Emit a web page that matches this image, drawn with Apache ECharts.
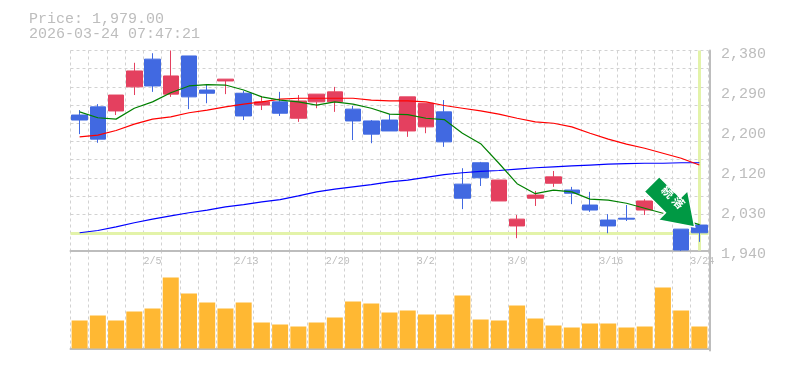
<!DOCTYPE html>
<html><head><meta charset="utf-8">
<style>html,body{margin:0;padding:0;background:#fff}#c{width:785px;height:370px}</style>
<script src="https://cdn.jsdelivr.net/npm/echarts@6/dist/echarts.min.js"></script>
</head><body><div id="c"></div>
<script>
const categories=['1/30','2/2','2/3','2/4','2/5','2/6','2/9','2/10','2/12','2/13','2/16','2/17','2/18','2/19','2/20','2/24','2/25','2/26','2/27','3/2','3/3','3/4','3/5','3/6','3/9','3/10','3/11','3/12','3/13','3/16','3/17','3/18','3/19','3/23','3/24'];
const axisDates=['','','','','2/5','','','','','2/13','','','','','2/20','','','','','3/2','','','','','3/9','','','','','3/16','','','','','3/24',''];
const opens=[2238,2256,2247,2300,2361,2284,2368,2293,2313,2286,2260,2267,2231,2267,2267,2251,2225,2227,2203,2212,2245,2086,2133,2049,1994,2055,2088,2073,2040,2007,2011,2029,2051,1987,1996];
const closes=[2227,2185,2282,2335,2302,2324,2278,2286,2317,2236,2267,2242,2269,2284,2289,2225,2196,2203,2278,2264,2179,2055,2100,2095,2009,2062,2102,2066,2029,1994,2009,2049,2073,1941,1979];
const highs=[2249,2262,2282,2353,2374,2380,2368,2306,2317,2291,2280,2289,2282,2284,2300,2258,2227,2240,2278,2264,2271,2121,2135,2095,2018,2071,2115,2080,2069,2020,2040,2053,2084,1987,1998];
const lows=[2196,2177,2238,2282,2289,2278,2251,2264,2284,2227,2249,2236,2223,2253,2245,2183,2176,2203,2190,2198,2168,2031,2082,2049,1967,2038,2080,2042,2025,1978,2005,2018,2042,1939,1959];
const maShort=[2245,2232,2229,2253,2267,2287,2302,2305,2304,2293,2278,2271,2267,2260,2267,2262,2253,2240,2239,2231,2228,2198,2175,2132,2087,2065,2073,2069,2053,2051,2044,2033,2022,2009,1997];
const maMid=[2190,2194,2204,2218,2229,2234,2243,2249,2256,2262,2267,2273,2275,2275,2275,2275,2271,2269,2269,2267,2259,2253,2247,2240,2231,2223,2220,2212,2198,2185,2174,2165,2154,2143,2128];
const maLong=[1979,1984,1992,2001,2009,2016,2023,2029,2036,2041,2047,2052,2060,2069,2075,2080,2085,2091,2095,2101,2107,2111,2114,2116,2119,2122,2124,2126,2128,2130,2131,2132,2132,2133,2133];
const volumes=[280,330,280,370,400,710,550,460,400,460,260,240,220,260,310,470,450,360,380,340,340,530,290,280,430,300,230,210,250,250,210,220,610,380,220];
const gridValues=[1940,1980,2020,2060,2100,2140,2180,2220,2260,2300,2340,2380];
const priceTicks=[1940,2028,2116,2204,2292,2380];
const lastPrice=1979;
const titleLines=['Price: 1,979.00','2026-03-24 07:47:21'];
const arrowText='続 落';
const grey='#bdbdbd', dash='#d2d2d2', mono='"Liberation Mono",monospace';
const fmt=v=>{const r=Math.round(v/10)*10;return String(r).replace(/\B(?=(\d{3})+$)/g,',');};
const candle=categories.map((c,i)=>[opens[i],closes[i],lows[i],highs[i]]);
const dashed={show:true,lineStyle:{color:dash,type:[3,3],width:1}};
const chart=echarts.init(document.getElementById('c'),null,{renderer:'canvas'});
const ln=(name,data,color)=>({name,type:'line',data,xAxisIndex:0,yAxisIndex:0,symbol:'none',smooth:false,z:3,lineStyle:{color,width:1.2},silent:true,animation:false});
chart.setOption({
 animation:false,backgroundColor:'#fff',
 title:{show:false},
 graphic:titleLines.map((t,i)=>({type:'text',left:29,top:12+i*15,silent:true,style:{text:t,font:'15px '+mono,fill:grey}})),
 grid:[{left:70.5,top:50.5,width:638,height:200},{left:70.5,top:250.5,width:638,height:100}],
 xAxis:[
  {type:'category',gridIndex:0,data:categories,boundaryGap:true,axisLine:{show:false},axisTick:{show:false},axisLabel:{show:false},splitLine:{show:false}},
  {type:'category',gridIndex:0,position:'bottom',data:axisDates,boundaryGap:false,axisLine:{show:true,lineStyle:{color:grey,width:2}},axisTick:{show:false},
   axisLabel:{show:true,interval:0,align:'left',margin:6,fontFamily:mono,fontSize:10,color:grey,hideOverlap:false},splitLine:{show:true,interval:0,lineStyle:dashed.lineStyle}},
  {type:'category',gridIndex:1,data:axisDates,boundaryGap:false,axisLine:{show:true,lineStyle:{color:grey,width:2}},axisTick:{show:false},axisLabel:{show:false},splitLine:{show:true,interval:0,lineStyle:dashed.lineStyle}},
  {type:'category',gridIndex:1,data:categories,boundaryGap:true,axisLine:{show:false},axisTick:{show:false},axisLabel:{show:false},splitLine:{show:false}}
 ],
 yAxis:[
  {type:'value',gridIndex:0,position:'right',offset:1.5,min:1940,max:2380,
   axisLine:{show:true,lineStyle:{color:grey,width:2}},
   axisTick:{show:false,customValues:gridValues},
   axisLabel:{show:true,customValues:priceTicks,margin:11,verticalAlign:'top',lineHeight:8,fontFamily:mono,fontSize:15,color:grey,formatter:fmt},
   splitLine:dashed},
  {type:'value',gridIndex:1,position:'right',offset:1.5,min:-20,max:980,
   axisLine:{show:true,lineStyle:{color:grey,width:2}},axisTick:{show:false},axisLabel:{show:false},splitLine:{show:false}}
 ],
 series:[
  {name:'Last',type:'line',xAxisIndex:0,yAxisIndex:0,data:[],z:1,symbol:'none',silent:true,
   markLine:{z:1,silent:true,symbol:'none',label:{show:false},animation:false,lineStyle:{color:'#e3f3a9',width:3,type:'solid'},
    data:[{yAxis:lastPrice},{xAxis:categories[34]}]}},
  {name:'Candle',type:'candlestick',xAxisIndex:0,yAxisIndex:0,data:candle,z:2,barWidth:16,silent:true,clip:false,
   itemStyle:{color:'#e4405f',color0:'#4169e1',borderColor:'#e4405f',borderColor0:'#4169e1',borderWidth:1}},
  ln('MA long',maLong,'#0000ff'),ln('MA mid',maMid,'#ff0000'),ln('MA short',maShort,'#008000'),
  {name:'Volume',type:'bar',xAxisIndex:3,yAxisIndex:1,data:volumes,barWidth:16,silent:true,itemStyle:{color:'#ffb833'}},
  {name:'Signal',type:'scatter',xAxisIndex:0,yAxisIndex:0,data:[],z:5,silent:true,
   markPoint:{silent:true,animation:false,data:[{coord:[33,2039],symbolOffset:[-8,0],symbol:'path://M0 10.5L30 10.5L30 0L61 21L30 42L30 31.5L0 31.5Z',symbolSize:[61,42],symbolRotate:-45,symbolKeepAspect:false,
    itemStyle:{color:'#009944',borderColor:'#fff',borderWidth:1.5},
    label:{show:true,position:'inside',formatter:arrowText,rotate:-45,offset:[-6,-6],color:'#fff',fontFamily:'"Noto Sans CJK JP"',fontWeight:'bold',fontSize:12}}]}}
 ]
});
</script></body></html>
